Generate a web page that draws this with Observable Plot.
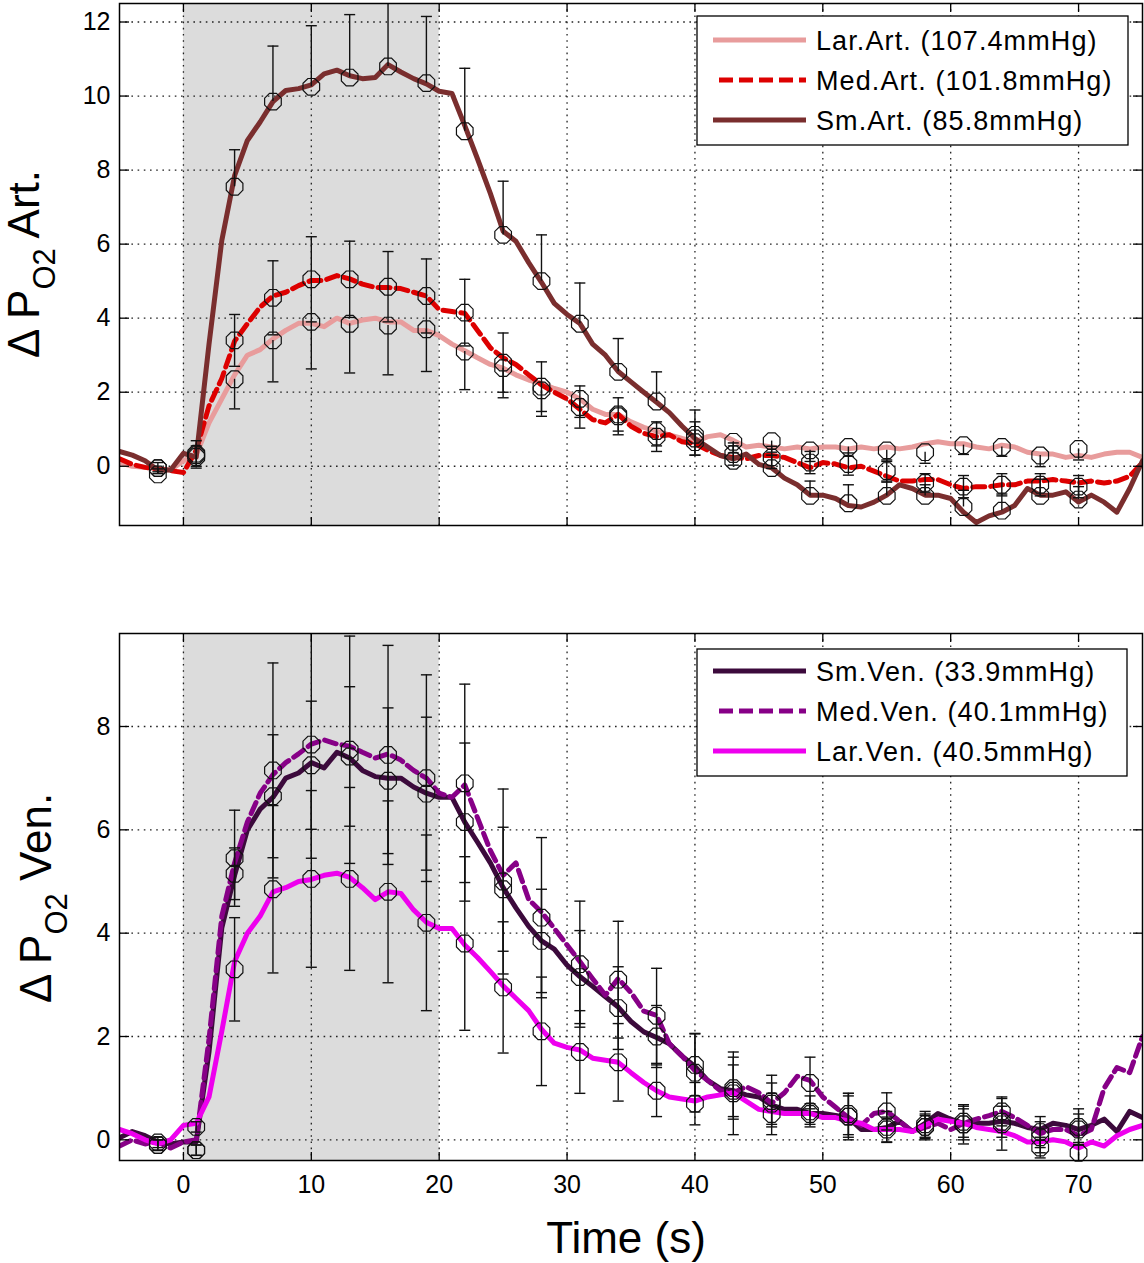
<!DOCTYPE html>
<html>
<head>
<meta charset="utf-8">
<script src="https://cdn.jsdelivr.net/npm/d3@7"></script>
<script src="https://cdn.jsdelivr.net/npm/@observablehq/plot@0.6"></script>
<style>
  html, body { margin: 0; padding: 0; background: #fff; }
  #chart svg { display: block; }
</style>
</head>
<body>
<div id="chart"></div>
<script>
// ---------- shared axes data ----------
const time = d3.range(-5, 76);            // sample times, 1 s grid (-5 .. 75)
const markerTimes = [-2, 1, 4, 7, 10, 13, 16, 19, 22, 25, 28, 31, 34, 37, 40, 43, 46, 49, 52, 55, 58, 61, 64, 67, 70];
const xTicks = [0, 10, 20, 30, 40, 50, 60, 70];
const stimulus = [{start: 0, end: 20}];

// ---------- arterial panel ----------
const artYTicks = [0, 2, 4, 6, 8, 10, 12];
const larArtLine = [
  0.1, 0.0, -0.03, -0.07, -0.1, 0.15, 0.3, 1.17, 1.82, 2.47,
  3.0, 3.15, 3.44, 3.67, 3.86, 3.86, 3.77, 4.0, 3.86, 3.95,
  4.0, 3.9, 3.9, 3.67, 3.67, 3.53, 3.3, 3.12, 2.93, 2.75,
  2.65, 2.47, 2.33, 2.24, 2.1, 2.0, 1.82, 1.54, 1.4, 1.4,
  1.2, 1.05, 0.95, 0.85, 0.75, 0.66, 0.8, 0.85, 0.7, 0.52,
  0.57, 0.52, 0.47, 0.52, 0.47, 0.52, 0.52, 0.47, 0.52, 0.47,
  0.52, 0.47, 0.52, 0.61, 0.66, 0.61, 0.61, 0.52, 0.47, 0.57,
  0.52, 0.38, 0.33, 0.33, 0.24, 0.29, 0.24, 0.33, 0.38, 0.38,
  0.24
];
const medArtLine = [
  0.2, 0.05, -0.03, -0.07, -0.12, -0.17, 0.43, 1.63, 2.37, 3.38,
  3.85, 4.3, 4.6, 4.7, 4.88, 5.02, 5.02, 5.15, 5.06, 4.92,
  4.83, 4.83, 4.8, 4.7, 4.6, 4.23, 4.18, 4.13, 3.67, 3.2,
  2.93, 2.75, 2.47, 2.2, 2.0, 1.82, 1.54, 1.26, 1.17, 1.4,
  1.08, 0.89, 0.8, 0.85, 0.66, 0.61, 0.43, 0.29, 0.24, 0.2,
  0.29, 0.29, 0.24, 0.1, -0.04, 0.1, 0.06, -0.04, 0.0, -0.13,
  -0.27, -0.4, -0.4, -0.36, -0.36, -0.5, -0.6, -0.55, -0.55, -0.5,
  -0.5, -0.4, -0.4, -0.36, -0.4, -0.45, -0.4, -0.45, -0.4, -0.27,
  0.1
];
const smArtLine = [
  0.4, 0.3, 0.15, -0.1, -0.1, 0.35, 0.25, 3.3, 6.1, 7.85,
  8.8, 9.3, 9.85, 10.15, 10.2, 10.3, 10.6, 10.7, 10.55, 10.47,
  10.5, 10.85, 10.65, 10.47, 10.33, 10.13, 10.07, 9.2, 8.3, 7.37,
  6.35, 6.08, 5.5, 4.97, 4.4, 4.1, 3.86, 3.3, 3.0, 2.56,
  2.28, 2.0, 1.73, 1.45, 1.08, 0.75, 0.52, 0.29, 0.2, 0.33,
  0.05, -0.04, -0.32, -0.5, -0.78, -0.78, -0.87, -1.06, -1.1, -0.97,
  -0.78, -0.5, -0.6, -0.78, -0.78, -0.87, -1.24, -1.52, -1.34, -1.24,
  -1.06, -0.6, -0.78, -0.78, -0.69, -0.97, -0.78, -0.97, -1.24, -0.6,
  0.15
];
const larArtMarkers = [-0.05, 0.3, 2.35, 3.4, 3.9, 3.85, 3.8, 3.7, 3.1, 2.65, 2.05, 1.82, 1.4, 0.95, 0.85, 0.66, 0.68, 0.43, 0.52, 0.43, 0.38, 0.57, 0.52, 0.29, 0.47];
const medArtMarkers = [-0.05, 0.25, 3.4, 4.55, 5.05, 5.05, 4.85, 4.6, 4.15, 2.8, 2.15, 1.6, 1.35, 0.8, 0.75, 0.33, 0.24, 0.1, 0.06, -0.13, -0.45, -0.55, -0.5, -0.5, -0.55];
const smArtMarkers  = [-0.22, 0.34, 7.55, 9.85, 10.25, 10.5, 10.8, 10.35, 9.05, 6.25, 5.0, 3.85, 2.55, 1.75, 0.65, 0.15, -0.05, -0.8, -1.0, -0.8, -0.8, -1.1, -1.2, -0.8, -0.9];
const larArtErr = [0.1, 0.3, 0.8, 1.12, 1.27, 1.33, 1.33, 1.14, 1.03, 0.8, 0.7, 0.5, 0.45, 0.4, 0.55, 0.3, 0.3, 0.3, 0.25, 0.3, 0.3, 0.25, 0.25, 0.3, 0.3];
const medArtErr = [0.15, 0.3, 0.7, 1.0, 1.15, 1.03, 0.95, 1.0, 0.9, 0.8, 0.67, 0.57, 0.5, 0.4, 0.45, 0.3, 0.3, 0.3, 0.3, 0.3, 0.25, 0.3, 0.3, 0.3, 0.3];
const smArtErr  = [0.15, 0.35, 1.0, 1.5, 1.65, 1.7, 1.8, 1.8, 1.7, 1.45, 1.25, 1.1, 0.9, 0.8, 0.87, 0.4, 0.35, 0.4, 0.5, 0.4, 0.3, 0.45, 0.45, 0.45, 0.35];

// ---------- venous panel ----------
const venYTicks = [0, 2, 4, 6, 8];
const smVenLine = [
  0.04, 0.16, 0.08, -0.04, -0.08, -0.04, -0.04, 1.7, 4.1, 5.12,
  6.0, 6.4, 6.63, 7.0, 7.1, 7.3, 7.2, 7.5, 7.39, 7.15,
  7.03, 7.0, 7.0, 6.83, 6.71, 6.63, 6.63, 6.15, 5.76, 5.36,
  4.88, 4.49, 4.13, 3.85, 3.69, 3.38, 3.16, 2.97, 2.77, 2.57,
  2.29, 2.09, 1.98, 1.86, 1.62, 1.42, 1.15, 0.99, 0.95, 0.87,
  0.83, 0.67, 0.59, 0.59, 0.51, 0.51, 0.47, 0.43, 0.2, 0.2,
  0.24, 0.36, 0.16, 0.32, 0.51, 0.4, 0.32, 0.32, 0.32, 0.36,
  0.32, 0.24, 0.2, 0.32, 0.28, 0.2, 0.28, 0.4, 0.16, 0.55,
  0.43
];
const medVenLine = [
  -0.12, 0.0, -0.08, -0.04, -0.16, -0.04, 0.0, 1.95, 4.33, 5.36,
  6.15, 6.71, 7.07, 7.3, 7.47, 7.66, 7.74, 7.66, 7.62, 7.5,
  7.39, 7.47, 7.35, 7.15, 7.0, 6.71, 6.63, 6.87, 6.23, 5.6,
  5.12, 5.36, 4.65, 4.41, 4.09, 3.77, 3.45, 3.12, 2.8, 3.12,
  2.85, 2.49, 2.41, 1.86, 1.62, 1.34, 1.15, 0.95, 0.91, 1.03,
  0.91, 0.71, 0.91, 1.23, 1.15, 0.83, 0.63, 0.43, 0.28, 0.51,
  0.55, 0.36, 0.16, 0.24, 0.32, 0.2, 0.32, 0.4, 0.47, 0.55,
  0.43, 0.28, 0.12, 0.2, 0.2, 0.08, 0.2, 1.0, 1.4, 1.3,
  2.0
];
const larVenLine = [
  0.2, 0.12, 0.0, -0.08, 0.0, 0.28, 0.32, 0.83, 2.1, 3.45,
  4.0, 4.33, 4.8, 4.88, 5.0, 5.04, 5.12, 5.16, 5.08, 4.88,
  4.65, 4.8, 4.77, 4.45, 4.21, 4.09, 4.09, 3.77, 3.53, 3.26,
  2.98, 2.74, 2.5, 2.14, 1.87, 1.79, 1.74, 1.58, 1.54, 1.5,
  1.3, 1.11, 0.95, 0.83, 0.79, 0.75, 0.83, 0.87, 0.91, 0.75,
  0.59, 0.55, 0.51, 0.51, 0.51, 0.43, 0.43, 0.36, 0.32, 0.2,
  0.2, 0.2, 0.16, 0.28, 0.4, 0.36, 0.32, 0.24, 0.2, 0.16,
  0.08, -0.04, -0.04, 0.0, -0.04, -0.16, -0.04, -0.12, 0.08, 0.2,
  0.28
];
const smVenMarkers  = [-0.05, -0.2, 5.15, 6.65, 7.25, 7.42, 6.95, 6.7, 6.15, 4.85, 3.85, 3.15, 2.55, 2.0, 1.45, 0.95, 0.7, 0.55, 0.5, 0.25, 0.3, 0.3, 0.35, 0.15, 0.2];
const medVenMarkers = [-0.1, -0.2, 5.45, 7.15, 7.65, 7.55, 7.45, 7.0, 6.9, 5.0, 4.3, 3.4, 3.1, 2.4, 1.3, 1.0, 0.75, 1.1, 0.45, 0.55, 0.25, 0.35, 0.55, 0.05, 0.25];
const larVenMarkers = [-0.1, 0.25, 3.3, 4.85, 5.05, 5.05, 4.8, 4.2, 3.8, 2.95, 2.1, 1.7, 1.5, 0.95, 0.7, 0.9, 0.5, 0.5, 0.45, 0.2, 0.25, 0.3, 0.3, -0.15, -0.25];
const smVenErr  = [0.1, 0.1, 0.5, 1.19, 1.24, 1.35, 1.41, 1.48, 1.53, 1.2, 1.0, 0.9, 0.8, 0.6, 0.6, 0.5, 0.4, 0.3, 0.4, 0.3, 0.25, 0.3, 0.3, 0.3, 0.3];
const medVenErr = [0.1, 0.1, 0.93, 2.08, 2.2, 2.2, 2.12, 2.0, 1.92, 1.79, 1.55, 1.22, 1.13, 0.92, 0.76, 0.6, 0.5, 0.5, 0.45, 0.36, 0.25, 0.3, 0.28, 0.3, 0.35];
const larVenErr = [0.1, 0.1, 1.0, 1.62, 1.71, 1.77, 1.76, 1.7, 1.68, 1.27, 1.05, 0.8, 0.75, 0.5, 0.41, 0.8, 0.4, 0.2, 0.4, 0.24, 0.22, 0.38, 0.5, 0.2, 0.2];

// ---------- series definitions ----------
const artSeries = [
  {label: "Lar.Art. (107.4mmHg)", line: larArtLine, markers: larArtMarkers, err: larArtErr, side: "down", color: "#e89c9c", dash: null},
  {label: "Med.Art. (101.8mmHg)", line: medArtLine, markers: medArtMarkers, err: medArtErr, side: "both", color: "#dd0000", dash: "12,6"},
  {label: "Sm.Art. (85.8mmHg)",   line: smArtLine,  markers: smArtMarkers,  err: smArtErr,  side: "up",   color: "#7a2e2e", dash: null}
];
const venSeries = [
  {label: "Sm.Ven. (33.9mmHg)",  line: smVenLine,  markers: smVenMarkers,  err: smVenErr,  side: "both", color: "#3c0a3c", dash: null},
  {label: "Med.Ven. (40.1mmHg)", line: medVenLine, markers: medVenMarkers, err: medVenErr, side: "both", color: "#870087", dash: "12,6"},
  {label: "Lar.Ven. (40.5mmHg)", line: larVenLine, markers: larVenMarkers, err: larVenErr, side: "both", color: "#ee00ee", dash: null}
];

// ---------- symbols ----------
const octagon = {draw(ctx, size) {
  const r = Math.sqrt(size / Math.PI);
  for (let i = 0; i < 8; i++) {
    const a = Math.PI / 8 + i * Math.PI / 4;
    const px = r * Math.cos(a), py = r * Math.sin(a);
    if (i) ctx.lineTo(px, py); else ctx.moveTo(px, py);
  }
  ctx.closePath();
}};
const hcap = {draw(ctx, size) {
  const r = Math.sqrt(size / Math.PI);
  ctx.moveTo(-r, 0); ctx.lineTo(r, 0);
}};

const FONT = "'Liberation Sans', Arial, Helvetica, sans-serif";
const intFormat = d => String(d);

function buildPanel(cfg) {
  const {series, yTicks, yDomain, height, marginTop, marginBottom, showXLabels} = cfg;
  const marks = [
    Plot.rect(stimulus, {x1: "start", x2: "end", fill: "#dcdcdc"}),
    Plot.gridX(xTicks, {stroke: "#222", strokeOpacity: 1, strokeWidth: 1.3, strokeDasharray: "1.6,4.6"}),
    Plot.gridY(yTicks, {stroke: "#222", strokeOpacity: 1, strokeWidth: 1.3, strokeDasharray: "1.6,4.6"})
  ];
  for (const s of series) {
    const rows = time.map((t, i) => ({t, v: s.line[i]}));
    marks.push(Plot.line(rows, {x: "t", y: "v", stroke: s.color, strokeWidth: 5, strokeDasharray: s.dash, clip: true, curve: "linear"}));
  }
  for (const s of series) {
    const bars = markerTimes.map((t, i) => ({
      t,
      lo: s.side === "up" ? s.markers[i] : s.markers[i] - s.err[i],
      hi: s.side === "down" ? s.markers[i] : s.markers[i] + s.err[i]
    }));
    const caps = [];
    bars.forEach(b => {
      if (s.side !== "down") caps.push({t: b.t, y: b.hi});
      if (s.side !== "up") caps.push({t: b.t, y: b.lo});
    });
    marks.push(Plot.ruleX(bars, {x: "t", y1: "lo", y2: "hi", stroke: "#111", strokeWidth: 1.4, clip: true}));
    marks.push(Plot.dot(caps, {x: "t", y: "y", symbol: hcap, r: 5.5, stroke: "#111", strokeWidth: 1.4, fill: "none", clip: true}));
  }
  for (const s of series) {
    const pts = markerTimes.map((t, i) => ({t, v: s.markers[i]}));
    marks.push(Plot.dot(pts, {x: "t", y: "v", symbol: octagon, r: 9, stroke: "#111", strokeWidth: 1.2, fill: "none"}));
  }
  marks.push(Plot.frame({stroke: "#000", strokeWidth: 1.5}));
  // inward ticks on all four sides (tick marks only: fill none suppresses labels)
  marks.push(Plot.axisX(xTicks, {anchor: "top", frameAnchor: "bottom", tickSize: 9, fill: "none", label: null, strokeWidth: 1.3}));
  marks.push(Plot.axisX(xTicks, {anchor: "bottom", frameAnchor: "top", tickSize: 9, fill: "none", label: null, strokeWidth: 1.3}));
  marks.push(Plot.axisY(yTicks, {anchor: "right", frameAnchor: "left", tickSize: 9, fill: "none", label: null, strokeWidth: 1.3}));
  marks.push(Plot.axisY(yTicks, {anchor: "left", frameAnchor: "right", tickSize: 9, fill: "none", label: null, strokeWidth: 1.3}));
  // tick labels
  marks.push(Plot.axisY(yTicks, {anchor: "left", tickSize: 0, tickPadding: 9, label: null, fontSize: 25, tickFormat: intFormat}));
  if (showXLabels) marks.push(Plot.axisX(xTicks, {anchor: "bottom", tickSize: 0, tickPadding: 15, label: null, fontSize: 25, tickFormat: intFormat}));

  return Plot.plot({
    width: 1144,
    height,
    marginLeft: 119,
    marginRight: 2,
    marginTop,
    marginBottom,
    style: {fontFamily: FONT, fontSize: "25px", color: "#000", background: "#fff", overflow: "visible"},
    x: {domain: [-5, 75]},
    y: {domain: yDomain},
    marks
  });
}

function addYLabel(svg, name, cx, cy) {
  const t = d3.select(svg).append("text")
    .attr("transform", `translate(${cx},${cy}) rotate(-90)`)
    .attr("text-anchor", "middle")
    .attr("font-family", FONT)
    .attr("font-size", 44)
    .attr("fill", "#000");
  t.append("tspan").text("Δ P");
  t.append("tspan").attr("font-size", 31).attr("dy", 16).text("O2");
  t.append("tspan").attr("dy", -16).text(" " + name);
}

function addLegend(svg, series, box) {
  const g = d3.select(svg).append("g").attr("text-anchor", "start");
  g.append("rect").attr("x", box.x).attr("y", box.y).attr("width", box.w).attr("height", box.h)
    .attr("fill", "#fff").attr("stroke", "#000").attr("stroke-width", 1.3);
  series.forEach((s, i) => {
    const y = box.y + box.row0 + i * box.dy;
    g.append("line").attr("x1", box.x + 16).attr("x2", box.x + 109).attr("y1", y).attr("y2", y)
      .attr("stroke", s.color).attr("stroke-width", 5)
      .attr("stroke-dasharray", s.dash ? "14,6" : null)
      .attr("stroke-dashoffset", s.dash ? -6 : null);
    g.append("text").attr("x", box.x + 119).attr("y", y).attr("dy", "0.36em")
      .attr("text-anchor", "start")
      .attr("font-family", FONT).attr("font-size", 27).attr("letter-spacing", 1.1)
      .attr("fill", "#000").text(s.label);
  });
}

const artPlot = buildPanel({series: artSeries, yTicks: artYTicks, yDomain: [-1.6, 12.5], height: 560, marginTop: 3, marginBottom: 35, showXLabels: false});
addYLabel(artPlot, "Art.", 39, 264);
addLegend(artPlot, artSeries, {x: 697, y: 16, w: 431, h: 129, row0: 24, dy: 40});

const venPlot = buildPanel({series: venSeries, yTicks: venYTicks, yDomain: [-0.4, 9.8], height: 703, marginTop: 73, marginBottom: 103, showXLabels: true});
addYLabel(venPlot, "Ven.", 51, 338);
addLegend(venPlot, venSeries, {x: 697, y: 89, w: 430, h: 127, row0: 22, dy: 40});
d3.select(venPlot).append("text")
  .attr("x", 626).attr("y", 693).attr("text-anchor", "middle")
  .attr("font-family", FONT).attr("font-size", 44).attr("fill", "#000")
  .text("Time (s)");

document.getElementById("chart").append(artPlot, venPlot);
</script>
</body>
</html>
